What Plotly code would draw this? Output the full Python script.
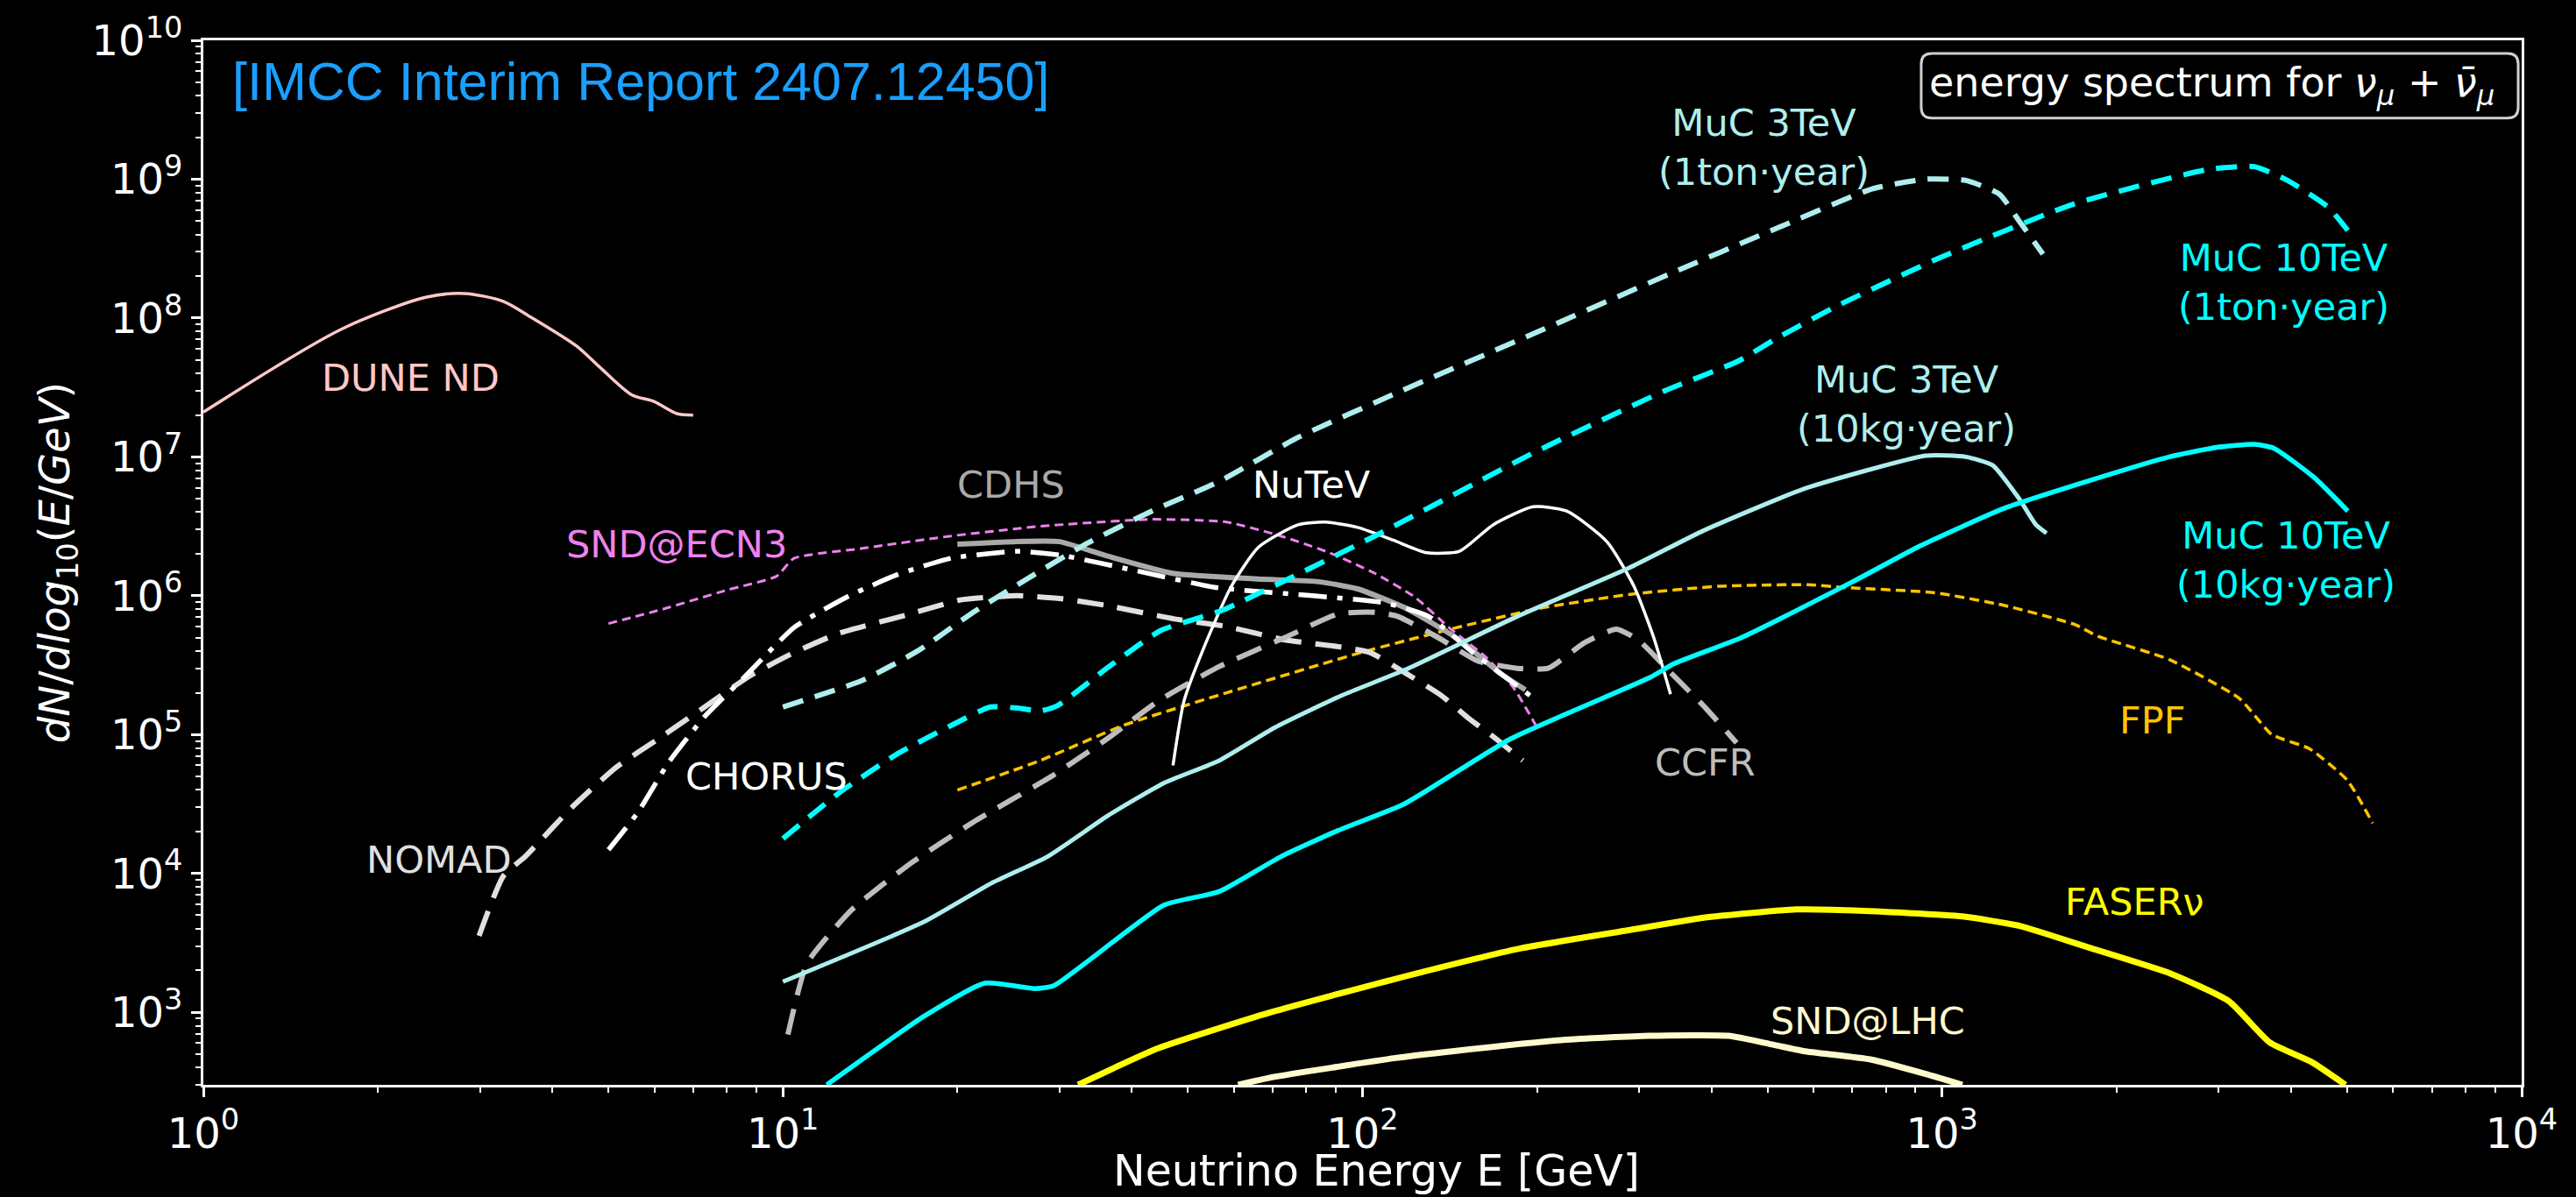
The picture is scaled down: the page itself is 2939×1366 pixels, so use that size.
import plotly.graph_objects as go

# ---------------- data ----------------
dune_E = [1.0, 1.73, 2.42, 2.82, 3.29, 3.68, 4.40, 4.81, 5.48, 6.0, 6.56, 7.0]
dune_N = [2.1e7, 8.3e7, 1.41e8, 1.5e8, 1.32e8, 1.01e8, 6.3e7, 4.5e7, 2.8e7, 2.5e7, 2.05e7, 2.0e7]

nomad_E = [2.99, 3.29, 3.61, 4.31, 5.14, 6.14, 7.33, 8.75, 10.45, 12.5, 16.3, 20.2, 25.4, 30.3,
           36.2, 47.4, 58.3, 73.5, 90.8, 103, 119, 137, 152, 169, 189]
nomad_N = [3.55e3, 9.5e3, 1.35e4, 2.95e4, 5.75e4, 9.5e4, 1.58e5, 2.63e5, 3.89e5, 5.37e5, 7.24e5,
           9.3e5, 1.0e6, 9.5e5, 8.5e5, 6.8e5, 6.0e5, 4.8e5, 4.3e5, 3.9e5, 2.75e5, 1.9e5, 1.32e5,
           9.5e4, 6.5e4]

chorus_E = [5.0, 5.62, 6.35, 7.33, 8.61, 10.45, 12.9, 15.7, 19.5, 25.4, 30.3, 39.6, 55.5, 61.5,
            109, 130, 155, 199]
chorus_N = [1.48e4, 2.75e4, 6.3e4, 1.35e5, 2.63e5, 5.9e5, 9.8e5, 1.41e6, 1.86e6, 2.09e6, 1.95e6,
            1.55e6, 1.15e6, 1.10e6, 8.9e5, 7.1e5, 3.9e5, 1.78e5]

cdhs_E = [20, 25, 30, 36, 47, 66, 84, 98, 119, 147, 173, 191]
cdhs_N = [2.35e6, 2.45e6, 2.45e6, 1.95e6, 1.45e6, 1.32e6, 1.26e6, 1.12e6, 8.1e5, 4.8e5, 2.75e5, 2.1e5]

nutev_E = [47.1, 49.2, 53.3, 59.4, 66.2, 77.4, 86.3, 98.4, 113, 129, 147, 168, 197, 225, 264,
           294, 318, 340]
nutev_N = [6.0e4, 1.74e5, 4.27e5, 1.17e6, 2.24e6, 3.24e6, 3.39e6, 3.09e6, 2.51e6, 2.04e6, 2.09e6,
           3.24e6, 4.37e6, 4.07e6, 2.45e6, 1.17e6, 5.0e5, 1.95e5]

ccfr_E = [10.2, 11.0, 13.1, 16.7, 21.3, 29.3, 36.5, 44.4, 56.6, 73.5, 90.8, 105, 115, 135, 158,
          185, 209, 242, 274, 299, 345, 391, 442]
ccfr_N = [6.9e2, 2.24e3, 5.4e3, 1.2e4, 2.34e4, 5.1e4, 9.5e4, 1.74e5, 3.09e5, 5.0e5, 7.4e5, 7.6e5,
          7.1e5, 5.0e5, 3.39e5, 3.0e5, 3.0e5, 4.6e5, 5.75e5, 4.8e5, 2.63e5, 1.55e5, 8.7e4]

sndecn3_E = [5.0, 6.14, 8.02, 9.75, 10.45, 13.7, 19.5, 27.8, 43.3, 58.3, 72.3, 87.7, 105, 123,
             142, 164, 182, 199]
sndecn3_N = [6.3e5, 7.9e5, 1.10e6, 1.38e6, 1.86e6, 2.19e6, 2.69e6, 3.16e6, 3.55e6, 3.39e6,
             2.69e6, 2.04e6, 1.45e6, 9.8e5, 5.75e5, 3.55e5, 2.19e5, 1.17e5]

fpf_E = [20.0, 27.8, 38.8, 58.3, 99.5, 142, 202, 288, 412, 587, 668, 971, 1282, 1694, 1858,
         2466, 3258, 3707, 4305, 5000, 5534]
fpf_N = [3.98e4, 6.5e4, 1.17e5, 2.0e5, 3.9e5, 5.75e5, 8.1e5, 1.02e6, 1.17e6, 1.20e6, 1.15e6,
         1.05e6, 8.5e5, 6.2e5, 5.1e5, 3.47e5, 1.82e5, 1.0e5, 7.9e4, 4.7e4, 2.3e4]

faser_E = [32.3, 44.4, 69.5, 114, 187, 288, 388, 560, 705, 1084, 1365, 1778, 2477, 3126, 3681,
           4345, 4966]
faser_N = [300, 550, 1.0e3, 1.74e3, 2.88e3, 3.9e3, 4.8e3, 5.5e3, 5.4e3, 4.9e3, 4.17e3, 2.95e3,
           1.9e3, 1.2e3, 603, 437, 300]

sndlhc_E = [61, 69.5, 114, 144, 222, 313, 428, 506, 577, 752, 946, 1084]
sndlhc_N = [300, 339, 468, 525, 631, 676, 676, 589, 525, 457, 355, 300]

muc3_ton_E = [10, 13.7, 17.2, 21.3, 25.4, 33.2, 43.3, 56.4, 77.4, 117, 200, 340, 508, 757, 938,
              1099, 1256, 1358, 1493]
muc3_ton_N = [1.58e5, 2.45e5, 4.07e5, 7.6e5, 1.20e6, 2.34e6, 4.07e6, 6.6e6, 1.38e7, 3.0e7,
              7.9e7, 2.09e8, 4.27e8, 8.5e8, 1.0e9, 9.8e8, 7.8e8, 5.0e8, 2.88e8]

muc3_kg_E = [10, 17.5, 22.9, 28.6, 36.5, 45.4, 56.6, 70.5, 92, 119, 185, 288, 388, 579, 938,
             1099, 1222, 1358, 1452, 1514]
muc3_kg_N = [1.66e3, 4.47e3, 8.5e3, 1.32e4, 2.63e4, 4.47e4, 6.5e4, 1.12e5, 1.91e5, 2.95e5,
             7.1e5, 1.58e6, 2.95e6, 5.9e6, 1.02e7, 1.0e7, 8.7e6, 5.0e6, 3.24e6, 2.82e6]

muc10_ton_E = [10, 12.5, 15.7, 19.8, 22.8, 25.4, 27.8, 29.8, 36.2, 44.8, 57.5, 105, 200, 333,
               445, 520, 661, 986, 1683, 2864, 3459, 3945, 4634, 5012]
muc10_ton_N = [1.78e4, 3.8e4, 7.2e4, 1.20e5, 1.58e5, 1.55e5, 1.48e5, 1.62e5, 3.0e5, 5.6e5,
               7.9e5, 2.69e6, 1.10e7, 3.0e7, 4.9e7, 7.2e7, 1.23e8, 2.69e8, 6.6e8, 1.17e9,
               1.23e9, 9.8e8, 6.3e8, 4.27e8]

muc10_kg_E = [11.9, 17.5, 22.3, 27.2, 29.3, 45.4, 56.6, 72.3, 90.8, 118, 180, 313, 345, 451,
              701, 918, 1282, 1828, 2466, 2979, 3459, 3741, 4385, 5012]
muc10_kg_N = [300, 933, 1.62e3, 1.48e3, 1.55e3, 5.9e3, 7.4e3, 1.32e4, 2.04e4, 3.16e4, 9.3e4,
              2.57e5, 3.24e5, 5.0e5, 1.26e6, 2.29e6, 4.27e6, 6.9e6, 1.0e7, 1.17e7, 1.23e7,
              1.15e7, 7.1e6, 4.07e6]

x_tick_vals = [1, 10, 100, 1000, 10000]
x_tick_text = ["10<sup>0</sup>", "10<sup>1</sup>", "10<sup>2</sup>", "10<sup>3</sup>", "10<sup>4</sup>"]
y_tick_vals = [1e3, 1e4, 1e5, 1e6, 1e7, 1e8, 1e9, 1e10]
y_tick_text = ["10<sup>3</sup>", "10<sup>4</sup>", "10<sup>5</sup>", "10<sup>6</sup>",
               "10<sup>7</sup>", "10<sup>8</sup>", "10<sup>9</sup>", "10<sup>10</sup>"]

# ---------------- figure ----------------
FONT = "DejaVu Sans"
fig = go.Figure()


def add(E, N, color, width, dash="solid", smooth=0.5):
    fig.add_trace(go.Scatter(
        x=E, y=N, mode="lines",
        line=dict(color=color, width=width, dash=dash, shape="spline", smoothing=smooth),
        hoverinfo="skip", showlegend=False))


C_MUC3 = "#afeeee"
C_MUC10 = "#00ffff"

add(dune_E, dune_N, "#ffc8c8", 3.5, smooth=0.8)
add(sndecn3_E, sndecn3_N, "#ee82ee", 3, "10px,6px")
add(fpf_E, fpf_N, "#ffc400", 3.5, "11px,6px")
add(nomad_E, nomad_N, "#e0e0e0", 6, "30px,16px")
add(ccfr_E, ccfr_N, "#bdbdbd", 6, "30px,16px")
add(cdhs_E, cdhs_N, "#a9a9a9", 6)
add(chorus_E, chorus_N, "#ffffff", 5.5, "32px,12px,6px,12px")
add(nutev_E, nutev_N, "#ffffff", 3.5, smooth=0.6)
add(muc3_ton_E, muc3_ton_N, C_MUC3, 6, "24px,14px")
add(muc10_ton_E, muc10_ton_N, C_MUC10, 6, "24px,14px")
add(muc3_kg_E, muc3_kg_N, C_MUC3, 5)
add(muc10_kg_E, muc10_kg_N, C_MUC10, 5.5)
add(faser_E, faser_N, "#ffff00", 7)
add(sndlhc_E, sndlhc_N, "#fffacd", 7)

labels = [
    ("DUNE ND", 0.358, 7.57, "#ffc8c8"),
    ("SND@ECN3", 0.817, 6.37, "#ee82ee"),
    ("CDHS", 1.393, 6.80, "#a9a9a9"),
    ("NuTeV", 1.913, 6.80, "#ffffff"),
    ("CHORUS", 0.971, 4.70, "#ffffff"),
    ("NOMAD", 0.407, 4.10, "#e0e0e0"),
    ("CCFR", 2.591, 4.80, "#bdbdbd"),
    ("MuC 3TeV<br>(1ton·year)", 2.692, 9.23, C_MUC3),
    ("MuC 10TeV<br>(1ton·year)", 3.590, 8.26, C_MUC10),
    ("MuC 3TeV<br>(10kg·year)", 2.938, 7.38, C_MUC3),
    ("MuC 10TeV<br>(10kg·year)", 3.593, 6.26, C_MUC10),
    ("FPF", 3.362, 5.10, "#ffc400"),
    ("FASERν", 3.333, 3.795, "#ffff00"),
    ("SND@LHC", 2.872, 2.94, "#fffacd"),
]
for txt, lx, ly, col in labels:
    fig.add_annotation(x=lx, y=ly, xref="x", yref="y", text=txt, showarrow=False,
                       font=dict(family=FONT, size=43, color=col), align="center")

# reference tag
fig.add_annotation(x=0.0118, y=0.9607, xref="paper", yref="paper", xanchor="left", yanchor="middle",
                   text="[IMCC Interim Report 2407.12450]", showarrow=False,
                   font=dict(family="Liberation Sans", size=61, color="#1a9fff"))

# legend-like box with rounded corners
x0, x1, y0, y1 = 0.741, 0.9985, 0.9255, 0.9874
rx, ry = 12 / 2645, 12 / 1195
path = (f"M {x0+rx},{y0} L {x1-rx},{y0} Q {x1},{y0} {x1},{y0+ry} L {x1},{y1-ry} "
        f"Q {x1},{y1} {x1-rx},{y1} L {x0+rx},{y1} Q {x0},{y1} {x0},{y1-ry} "
        f"L {x0},{y0+ry} Q {x0},{y0} {x0+rx},{y0} Z")
fig.add_shape(type="path", path=path, xref="paper", yref="paper",
              line=dict(color="#d0d0d0", width=3), fillcolor="black", layer="above")
fig.add_annotation(x=0.7435, y=0.9565, xref="paper", yref="paper", xanchor="left", yanchor="middle",
                   text="energy spectrum for <i>ν</i><sub><i>μ</i></sub> + <i>ν\u0304</i><sub><i>μ</i></sub>",
                   showarrow=False, font=dict(family=FONT, size=46, color="white"))

# x-axis title (placed as annotation)
fig.add_annotation(x=0.506, y=-0.1071, xref="paper", yref="paper", xanchor="center", yanchor="bottom",
                   text="Neutrino Energy E [GeV]", showarrow=False, borderpad=0,
                   font=dict(family=FONT, size=49, color="white"))

minor_x = [m * 10 ** d for d in range(0, 4) for m in range(2, 10)]
minor_y = [m * 10 ** d for d in range(2, 10) for m in range(2, 10) if m * 10 ** d >= 300]

axis_common = dict(
    showgrid=False, zeroline=False, showline=True, linecolor="white", linewidth=3,
    mirror=True, ticks="outside", ticklen=11, tickwidth=3, tickcolor="white",
    tickfont=dict(family=FONT, size=48, color="white"),
)

fig.update_layout(
    width=2939, height=1366,
    paper_bgcolor="black", plot_bgcolor="black",
    margin=dict(l=232, r=62, t=43, b=128),
    xaxis=dict(type="log", range=[0, 4], tickvals=x_tick_vals, ticktext=x_tick_text,
               minor=dict(tickvals=minor_x, ticks="outside", ticklen=6, tickwidth=2,
                          tickcolor="white", showgrid=False),
               **axis_common),
    yaxis=dict(type="log", range=[2.4771, 10], tickvals=y_tick_vals, ticktext=y_tick_text,
               minor=dict(tickvals=minor_y, ticks="outside", ticklen=6, tickwidth=2,
                          tickcolor="white", showgrid=False),
               title=dict(text="<i>dN</i>/<i>dlog</i><sub>10</sub>(<i>E</i>/<i>GeV</i>)",
                          standoff=10, font=dict(family=FONT, size=48, color="white")),
               **axis_common),
)

fig.write_html("out.html", config={"displayModeBar": False},
               post_script="document.body.style.margin='0px';document.body.style.overflow='hidden';")
